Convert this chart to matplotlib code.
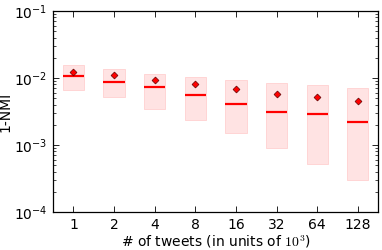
import matplotlib
matplotlib.use("Agg")
import matplotlib.pyplot as plt
import numpy as np

plt.rcParams['mathtext.fontset'] = 'cm'
plt.rcParams['font.family'] = ['DejaVu Sans']

categories = ['1', '2', '4', '8', '16', '32', '64', '128']
box_high = [0.0156, 0.0136, 0.0115, 0.0102, 0.0093, 0.0084, 0.00787, 0.00718]
box_low = [0.0066, 0.00515, 0.0034, 0.00236, 0.00149, 0.00091, 0.00052, 0.000297]
medians = [0.0107, 0.0088, 0.00726, 0.00563, 0.00414, 0.00307, 0.00293, 0.0022]
means = [0.0122, 0.0110, 0.0094, 0.0081, 0.00678, 0.00583, 0.00526, 0.00449]

fig = plt.figure(figsize=(3.82, 2.5), dpi=100)
ax = fig.add_axes([0.139, 0.152, 0.851, 0.804])

x = np.arange(len(categories))
w = 0.52
ax.bar(x, np.array(box_high) - np.array(box_low), bottom=box_low, width=w,
       color='#ffe3e3', edgecolor='#ffd0d0', linewidth=0.6, zorder=1)
ax.hlines(medians, x - w / 2, x + w / 2, colors='red', linewidth=1.6, zorder=2)
ax.plot(x, means, linestyle='none', marker='D', markersize=3.5,
        markerfacecolor='red', markeredgecolor='#600000', markeredgewidth=0.5, zorder=3)

ax.set_yscale('log')
ax.set_ylim(1e-4, 1e-1)
ax.set_xlim(-0.5, 7.5)
ax.set_xticks(x)
ax.set_xticklabels(categories)
ax.tick_params(axis='both', which='major', direction='in', length=4, width=0.6,
               top=True, right=True, labelsize=10, pad=4)
ax.tick_params(axis='both', which='minor', direction='in', length=2, width=0.5,
               top=True, right=True)
ax.set_ylabel('1-NMI', fontsize=10, labelpad=1)
ax.set_xlabel('# of tweets (in units of $10^3$)', fontsize=10, labelpad=1)
for s in ax.spines.values():
    s.set_linewidth(0.9)

fig.savefig('out.png', dpi=100)
